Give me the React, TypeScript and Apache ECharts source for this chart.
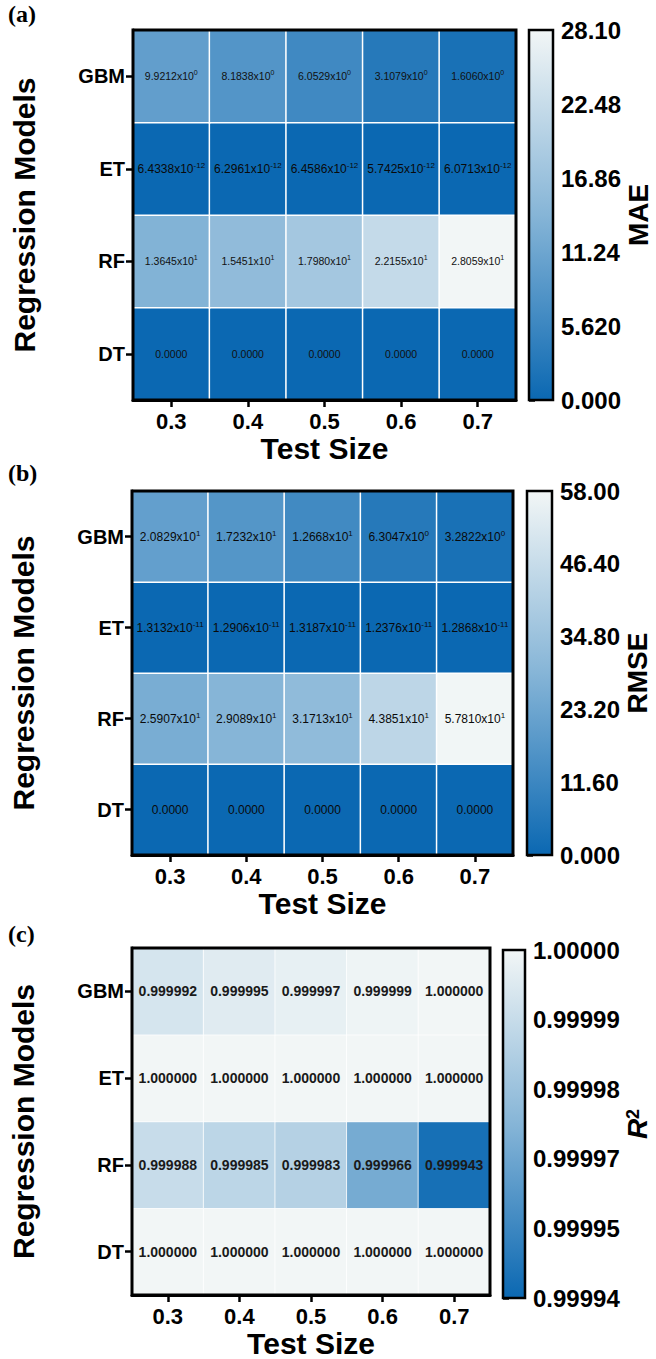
import React, { useEffect, useRef } from 'react';
import * as echarts from 'echarts';

const testSizes = ['0.3', '0.4', '0.5', '0.6', '0.7'];
const models = ['DT', 'RF', 'ET', 'GBM']; // bottom to top

const maeGBM = [9.9212, 8.1838, 6.0529, 3.1079, 1.606];
const maeET = [6.4338e-12, 6.2961e-12, 6.4586e-12, 5.7425e-12, 6.0713e-12];
const maeRF = [13.645, 15.451, 17.98, 22.155, 28.059];
const maeDT = [0, 0, 0, 0, 0];

const rmseGBM = [20.829, 17.232, 12.668, 6.3047, 3.2822];
const rmseET = [1.3132e-11, 1.2906e-11, 1.3187e-11, 1.2376e-11, 1.2868e-11];
const rmseRF = [25.907, 29.089, 31.713, 43.851, 57.81];
const rmseDT = [0, 0, 0, 0, 0];

const r2GBM = [0.999992, 0.999995, 0.999997, 0.999999, 1.0];
const r2ET = [1.0, 1.0, 1.0, 1.0, 1.0];
const r2RF = [0.999988, 0.999985, 0.999983, 0.999966, 0.999943];
const r2DT = [1.0, 1.0, 1.0, 1.0, 1.0];

const maeTicks = ['0.000', '5.620', '11.24', '16.86', '22.48', '28.10'];
const rmseTicks = ['0.000', '11.60', '23.20', '34.80', '46.40', '58.00'];
const r2Ticks = ['0.99994', '0.99995', '0.99997', '0.99998', '0.99999', '1.00000'];

const maeRange = [0, 28.1];
const rmseRange = [0, 58.0];
const r2Range = [0.99994, 1.0];

const palette = ['#0b68b2', '#86b5d7', '#f2f6f6'];
const FONT = '"Liberation Sans", Arial, Helvetica, sans-serif';

function cells(rows: number[][]) {
  const out: number[][] = [];
  rows.forEach((row, yi) => row.forEach((v, xi) => out.push([xi, yi, v])));
  return out;
}

function sci(v: number, big: boolean) {
  const m = big ? 'mb' : 'm';
  const e = big ? 'eb' : 'e';
  if (v === 0) return `{${m}|0.0000}`;
  const ex = Math.floor(Math.log10(v) + 1e-9);
  const mant = v / Math.pow(10, ex);
  return `{${m}|${mant.toFixed(4)}x10}{${e}|${ex}}`;
}

const gradient = {
  type: 'linear', x: 0, y: 0, x2: 0, y2: 1,
  colorStops: [
    { offset: 0, color: palette[2] },
    { offset: 0.5, color: palette[1] },
    { offset: 1, color: palette[0] },
  ],
};

export default function App() {
  const ref = useRef<HTMLDivElement>(null);
  useEffect(() => {
    if (!ref.current) return;
    const chart = echarts.init(ref.current, undefined, { renderer: 'svg' });

    const heatGrids = [
      { left: 133, top: 30, width: 383, height: 370 },
      { left: 129, top: 491, width: 384, height: 364 },
      { left: 124, top: 948, width: 366, height: 351 },
    ];
    const barGrids = [
      { left: 529, top: 30, width: 24, height: 370 },
      { left: 527, top: 491, width: 25, height: 364 },
      { left: 503, top: 950, width: 22, height: 348 },
    ];
    const barTicks = [maeTicks, rmseTicks, r2Ticks];
    const barNames = ['MAE', 'RMSE', '{i|R}{s|2}'];
    const barNameGaps = [64, 66, 88];

    const grid: any[] = [];
    const xAxis: any[] = [];
    const yAxis: any[] = [];
    for (let p = 0; p < 3; p++) {
      grid.push({ ...heatGrids[p], show: true, borderColor: '#000', borderWidth: 3, backgroundColor: 'transparent', z: 10 });
      grid.push({ ...barGrids[p], show: true, borderColor: '#000', borderWidth: 2.5, backgroundColor: gradient, z: 10 });
      const hi = p * 2;
      const bi = p * 2 + 1;
      xAxis.push({
        type: 'category', gridIndex: hi, data: testSizes,
        axisLine: { show: true, lineStyle: { color: '#000', width: 3 } },
        axisTick: { show: true, alignWithLabel: true, length: 7, lineStyle: { color: '#000', width: 2.5 } },
        axisLabel: { color: '#000', fontSize: 22, fontWeight: 'bold', fontFamily: FONT, margin: 10 },
        splitLine: { show: false },
        name: 'Test Size', nameLocation: 'middle', nameGap: 33,
        nameTextStyle: { color: '#000', fontSize: 30, fontWeight: 'bold', fontFamily: FONT },
      });
      yAxis.push({
        type: 'category', gridIndex: hi, data: models,
        axisLine: { show: true, lineStyle: { color: '#000', width: 3 } },
        axisTick: { show: true, alignWithLabel: true, length: 7, lineStyle: { color: '#000', width: 2.5 } },
        axisLabel: { color: '#000', fontSize: 20, fontWeight: 'bold', fontFamily: FONT, margin: 8 },
        splitLine: { show: false },
        name: 'Regression Models', nameLocation: 'middle', nameGap: 94, nameRotate: 90,
        nameTextStyle: { color: '#000', fontSize: 30, fontWeight: 'bold', fontFamily: FONT },
      });
      xAxis.push({ type: 'value', gridIndex: bi, show: false, min: 0, max: 1 });
      const ticks = barTicks[p];
      yAxis.push({
        type: 'value', gridIndex: bi, position: 'right', min: 0, max: ticks.length - 1, interval: 1,
        axisLine: { show: false },
        axisTick: { show: true, length: 6, lineStyle: { color: '#000', width: 2.5 } },
        axisLabel: { color: '#000', fontSize: 24, fontWeight: 'bold', fontFamily: FONT, margin: 8, formatter: (v: number) => ticks[Math.round(v)] },
        splitLine: { show: false },
        name: barNames[p], nameLocation: 'middle', nameGap: barNameGaps[p], nameRotate: 90,
        nameTextStyle: {
          color: '#000', fontSize: 28, fontWeight: 'bold', fontFamily: FONT,
          rich: {
            i: { fontSize: 28, fontStyle: 'italic', fontWeight: 'bold', fontFamily: FONT, color: '#000' },
            s: { fontSize: 18, fontWeight: 'bold', fontFamily: FONT, color: '#000', verticalAlign: 'top' },
          },
        },
      });
    }

    const sciRich = {
      m: { fontSize: 10.5, color: '#111', fontFamily: FONT, lineHeight: 14 },
      e: { fontSize: 7, color: '#111', fontFamily: FONT, verticalAlign: 'top', lineHeight: 8 },
      mb: { fontSize: 12, color: '#0a0a0a', fontFamily: FONT, lineHeight: 15 },
      eb: { fontSize: 8, color: '#0a0a0a', fontFamily: FONT, verticalAlign: 'top', lineHeight: 9 },
    };

    const option: any = {
      animation: false,
      backgroundColor: '#fff',
      grid, xAxis, yAxis,
      visualMap: [
        { show: false, seriesIndex: 0, min: maeRange[0], max: maeRange[1], inRange: { color: palette } },
        { show: false, seriesIndex: 1, min: rmseRange[0], max: rmseRange[1], inRange: { color: palette } },
        { show: false, seriesIndex: 2, min: r2Range[0], max: r2Range[1], inRange: { color: palette } },
      ],
      series: [
        {
          type: 'heatmap', xAxisIndex: 0, yAxisIndex: 0,
          data: cells([maeDT, maeRF, maeET, maeGBM]),
          itemStyle: { borderColor: '#fff', borderWidth: 1.5 },
          emphasis: { disabled: true },
          label: { show: true, formatter: (pr: any) => sci(pr.value[2], pr.value[1] === 2), rich: sciRich },
        },
        {
          type: 'heatmap', xAxisIndex: 2, yAxisIndex: 2,
          data: cells([rmseDT, rmseRF, rmseET, rmseGBM]),
          itemStyle: { borderColor: '#fff', borderWidth: 1.5 },
          emphasis: { disabled: true },
          label: { show: true, formatter: (pr: any) => sci(pr.value[2], true), rich: sciRich },
        },
        {
          type: 'heatmap', xAxisIndex: 4, yAxisIndex: 4,
          data: cells([r2DT, r2RF, r2ET, r2GBM]),
          itemStyle: { borderColor: 'rgba(255,255,255,0.8)', borderWidth: 1 },
          emphasis: { disabled: true },
          label: {
            show: true, color: '#1a1a1a', fontSize: 14, fontWeight: 'bold', fontFamily: FONT,
            formatter: (pr: any) => pr.value[2].toFixed(6),
          },
        },
      ],
      graphic: [
        { type: 'text', left: 8, top: 2, style: { text: '(a)', font: 'bold 24px "Liberation Serif", "Times New Roman", serif', fill: '#000' } },
        { type: 'text', left: 8, top: 461, style: { text: '(b)', font: 'bold 24px "Liberation Serif", "Times New Roman", serif', fill: '#000' } },
        { type: 'text', left: 8, top: 922, style: { text: '(c)', font: 'bold 24px "Liberation Serif", "Times New Roman", serif', fill: '#000' } },
      ],
    };
    chart.setOption(option);
    return () => chart.dispose();
  }, []);
  return <div ref={ref} style={{ position: 'absolute', left: 0, top: 0, width: 656, height: 1359 }} />;
}
